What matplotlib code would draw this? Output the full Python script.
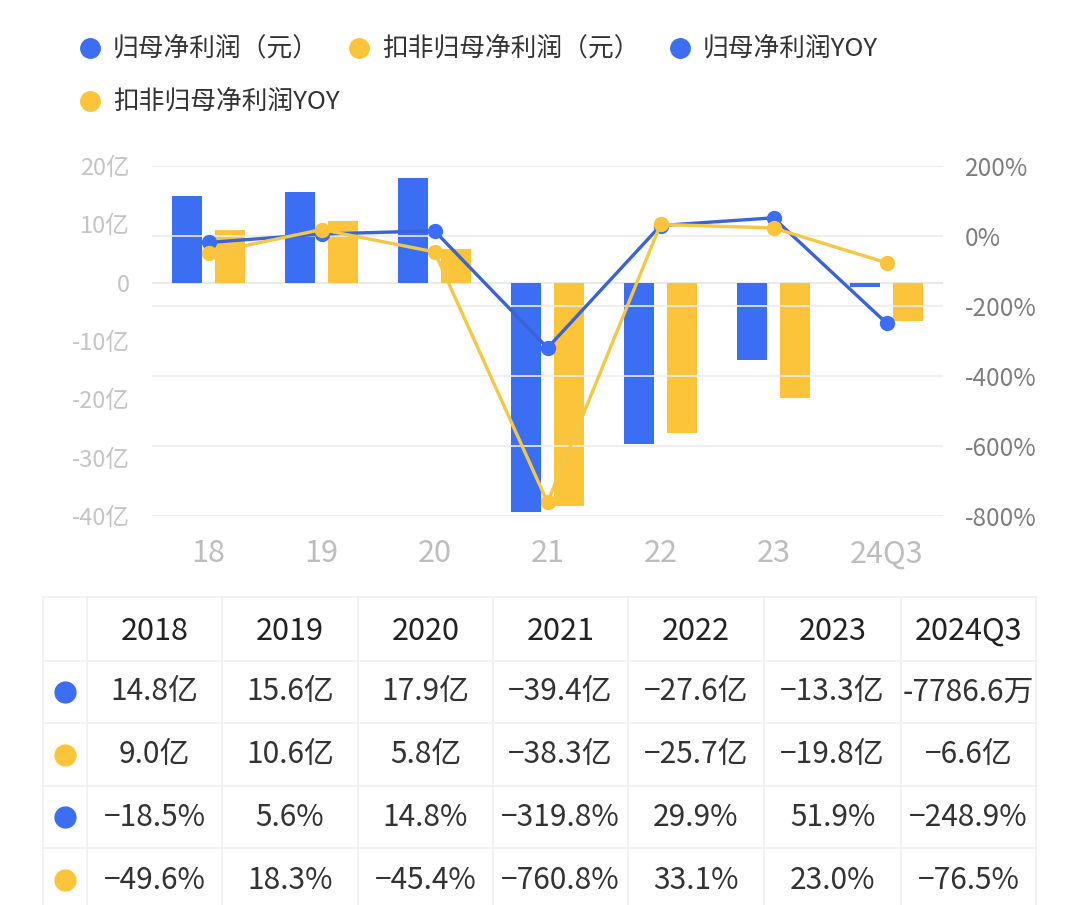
import matplotlib.pyplot as plt
from matplotlib.lines import Line2D
import numpy as np

plt.rcParams['font.family'] = ['Noto Sans CJK SC', 'DejaVu Sans']
plt.rcParams['axes.unicode_minus'] = False

# 数据
labels = ['18', '19', '20', '21', '22', '23', '24Q3']
years = ['2018', '2019', '2020', '2021', '2022', '2023', '2024Q3']
profit = [14.8, 15.6, 17.9, -39.4, -27.6, -13.3, -0.77866]      # 亿
profit_kf = [9.0, 10.6, 5.8, -38.3, -25.7, -19.8, -6.6]         # 亿
yoy = [-18.5, 5.6, 14.8, -319.8, 29.9, 51.9, -248.9]            # %
yoy_kf = [-49.6, 18.3, -45.4, -760.8, 33.1, 23.0, -76.5]        # %

legend_names = ['归母净利润（元）', '扣非归母净利润（元）', '归母净利润YOY', '扣非归母净利润YOY']

BLUE = '#3b6ef3'
YELLOW = '#fbc43a'
W, H = 1080, 905


def fx(x):
    return x / W


def fy(y):
    return 1 - y / H


def fmt_yi(v):
    if abs(v) < 1:
        return '-' + f'{abs(v) * 10000:.1f}万' if v < 0 else f'{v * 10000:.1f}万'
    s = f'{abs(v):.1f}亿'
    return ('\u2212' + s) if v < 0 else s


def fmt_pct(v):
    s = f'{abs(v):.1f}%'
    return ('\u2212' + s) if v < 0 else s


fig = plt.figure(figsize=(W / 100, H / 100), dpi=100)
fig.patch.set_facecolor('white')

ax = fig.add_axes([fx(152), fy(516), (943 - 152) / W, (516 - 166) / H])
ax2 = ax.twinx()

x = np.arange(len(labels))
bw = 0.265
off = 0.19
ax.bar(x - off, profit, width=bw, color=BLUE, zorder=2)
ax.bar(x + off, profit_kf, width=bw, color=YELLOW, zorder=2)
ax.axhline(0, color='#e6e6e6', lw=1.2, zorder=1)

ax.set_xlim(-0.5, len(labels) - 0.5)
ax.set_ylim(-40, 20)
ax.set_yticks([20, 10, 0, -10, -20, -30, -40])
ax.set_yticklabels(['20亿', '10亿', '0', '-10亿', '-20亿', '-30亿', '-40亿'])
ax.set_xticks(x)
ax.set_xticklabels(labels)

ax2.set_ylim(-800, 200)
ax2.set_yticks([200, 0, -200, -400, -600, -800])
ax2.set_yticklabels(['200%', '0%', '-200%', '-400%', '-600%', '-800%'])
ax2.grid(axis='y', color='#ececec', lw=1.2)
ax2.set_axisbelow(True)
ax.set_zorder(1)
ax2.set_zorder(2)
ax.patch.set_visible(False)
ax2.patch.set_visible(False)

ax2.plot(x, yoy, color='#3a63d4', lw=2.4, marker='o', ms=10,
         mfc=BLUE, mec=BLUE, zorder=3)
ax2.plot(x, yoy_kf, color='#f3c747', lw=2.4, marker='o', ms=10,
         mfc=YELLOW, mec=YELLOW, zorder=4)

for a in (ax, ax2):
    for s in a.spines.values():
        s.set_visible(False)
ax.tick_params(axis='y', length=0, pad=16, labelsize=17, labelcolor='#c4c4c4')
ax.tick_params(axis='x', length=0, pad=16, labelsize=22, labelcolor='#bdbdbd')
ax2.tick_params(axis='y', length=0, pad=16, labelsize=17.5, labelcolor='#7d7d7d')

# 图例
leg_pos = [(90, 48), (359, 48), (680, 48), (90, 101)]
leg_colors = [BLUE, YELLOW, BLUE, YELLOW]
for (px, py), name, c in zip(leg_pos, legend_names, leg_colors):
    fig.add_artist(Line2D([fx(px)], [fy(py)], marker='o', ms=14, color=c,
                          mec=c, transform=fig.transFigure))
    fig.text(fx(px + 23), fy(py), name, fontsize=18.5, color='#333333',
             ha='left', va='center')

# 表格
col_edges = [43, 87, 222, 358, 493, 628, 764, 901, 1036]
row_edges = [597, 661, 723, 786, 848, 912]
line_c = '#f0f0f0'
for xe in col_edges:
    fig.add_artist(Line2D([fx(xe), fx(xe)], [fy(row_edges[0]), fy(row_edges[-1])],
                          color=line_c, lw=1.2, transform=fig.transFigure))
for ye in row_edges:
    fig.add_artist(Line2D([fx(col_edges[0]), fx(col_edges[-1])], [fy(ye), fy(ye)],
                          color=line_c, lw=1.2, transform=fig.transFigure))

centers = [(col_edges[i] + col_edges[i + 1]) / 2 for i in range(len(col_edges) - 1)]
row_c = [(row_edges[i] + row_edges[i + 1]) / 2 for i in range(len(row_edges) - 1)]

for i, yr in enumerate(years):
    fig.text(fx(centers[i + 1]), fy(row_c[0] + 2), yr, fontsize=22, color='#222222',
             fontweight='medium', ha='center', va='center')

rows = [
    [fmt_yi(v) for v in profit],
    [fmt_yi(v) for v in profit_kf],
    [fmt_pct(v) for v in yoy],
    [fmt_pct(v) for v in yoy_kf],
]
row_colors = [BLUE, YELLOW, BLUE, YELLOW]
for r, (vals, c) in enumerate(zip(rows, row_colors)):
    yc = row_c[r + 1]
    fig.add_artist(Line2D([fx(centers[0])], [fy(yc)], marker='o', ms=15, color=c,
                          mec=c, transform=fig.transFigure))
    for i, s in enumerate(vals):
        fig.text(fx(centers[i + 1]), fy(yc), s, fontsize=21.5, color='#333333',
                 ha='center', va='center')

fig.savefig('out.png', dpi=100)
